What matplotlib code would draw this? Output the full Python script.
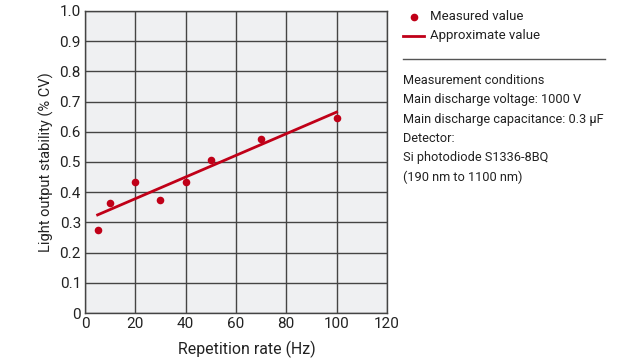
import matplotlib
matplotlib.use('Agg')
from matplotlib import pyplot as plt
from matplotlib.lines import Line2D

plt.rcParams['font.family'] = ['Roboto', 'DejaVu Sans']

rate = [5, 10, 20, 30, 40, 50, 70, 100]
stability = [0.275, 0.365, 0.435, 0.375, 0.435, 0.505, 0.575, 0.645]
fit_x = [5, 100]
fit_y = [0.325, 0.665]

conditions = ["Measurement conditions",
              "Main discharge voltage: 1000 V",
              "Main discharge capacitance: 0.3 \u03bcF",
              "Detector:",
              "Si photodiode S1336-8BQ",
              "(190 nm to 1100 nm)"]

red = '#c00018'

fig = plt.figure(figsize=(6.3, 3.62), dpi=100)
ax = fig.add_axes([0.135, 0.135, 0.479, 0.835])
ax.set_facecolor('#eff0f2')

ax.plot(fit_x, fit_y, color=red, linewidth=2, zorder=3)
ax.scatter(rate, stability, color=red, s=30, zorder=4, linewidths=0)

ax.set_xlim(0, 120)
ax.set_ylim(0, 1.0)
ax.set_xticks(range(0, 121, 20))
ax.set_yticks([i / 10 for i in range(11)])
ax.set_yticklabels(['0'] + ['%.1f' % (i / 10) for i in range(1, 11)])
ax.tick_params(length=0, labelsize=11, colors='#222222', pad=3)
ax.grid(color='#444444', linewidth=1, zorder=1)
ax.set_axisbelow(True)
for s in ax.spines.values():
    s.set_color('#444444')
    s.set_linewidth(1)

ax.set_xlabel('Repetition rate (Hz)', fontsize=11.4, color='#222222')
ax.xaxis.set_label_coords(0.535, -0.09)
ax.set_ylabel('Light output stability (% CV)', fontsize=10.5, color='#222222', labelpad=4)

# legend and conditions text
fig.add_artist(Line2D([414 / 630], [1 - 17 / 362], marker='o', color=red,
                      markersize=4.5, linestyle='none', transform=fig.transFigure))
fig.text(430 / 630, 1 - 17 / 362, 'Measured value', fontsize=9.5, va='center', color='#222222')
fig.add_artist(Line2D([403 / 630, 424 / 630], [1 - 36 / 362] * 2, color=red,
                      linewidth=2, transform=fig.transFigure))
fig.text(430 / 630, 1 - 36 / 362, 'Approximate value', fontsize=9.5, va='center', color='#222222')
fig.add_artist(Line2D([403 / 630, 605 / 630], [1 - 59 / 362] * 2, color='#555555',
                      linewidth=1, transform=fig.transFigure))
for i, t in enumerate(conditions):
    fig.text(403 / 630, 1 - (80 + i * 19.5) / 362, t, fontsize=9.2, va='center', color='#222222')

fig.savefig('out.png', dpi=100)
